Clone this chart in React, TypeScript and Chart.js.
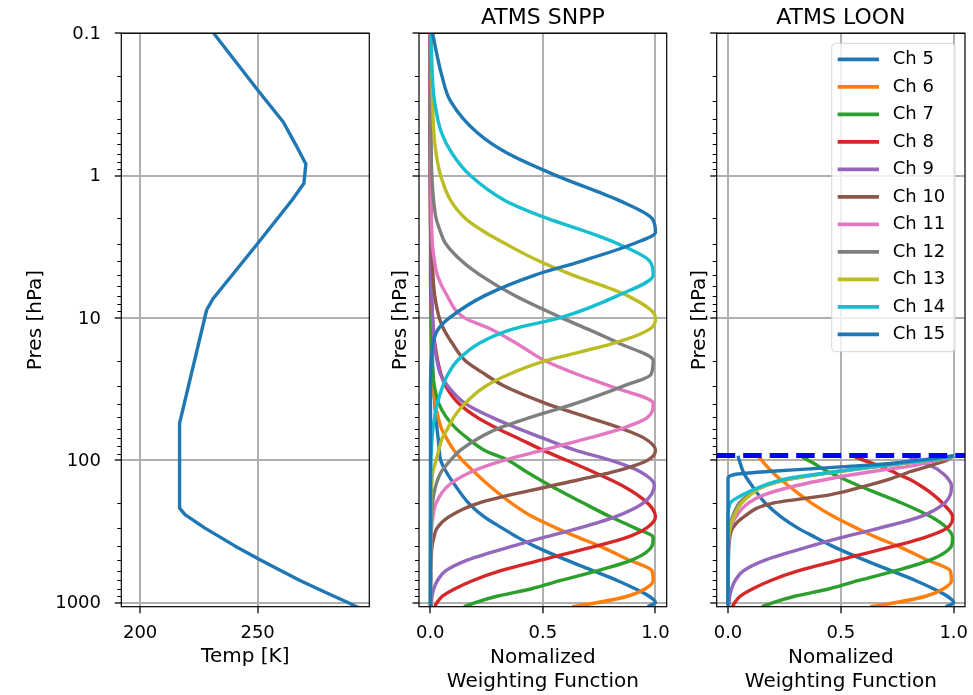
import React, { useEffect, useRef } from 'react';
import { Chart, registerables } from 'chart.js';

Chart.register(...registerables);

const FONT = 'DejaVu Sans';
Chart.defaults.font.family = FONT;

// ---------- axis ticks / limits ----------
const PRES_TICKS = [0.1, 1, 10, 100, 1000];
const TEMP_TICKS = [200, 250];
const WF_TICKS = [0, 0.5, 1];

const PRES_MIN = 0.1;
const PRES_MAX = 1070;
const TEMP_MIN = 192;
const TEMP_MAX = 297.5;
const WF_MIN = -0.05;
const WF_MAX = 1.05;

// ---------- panel 1: temperature profile ----------
const TEMP_PRES = [0.1, 0.25, 0.42, 0.61, 0.83, 1.13, 1.49, 3.0, 7.3, 8.8, 54.8, 217, 241, 300, 400, 500, 600, 700, 850, 1000, 1100];
const TEMP_K = [231.3, 250.0, 260.9, 266.3, 270.5, 269.7, 264.6, 250.0, 231.1, 228.3, 216.8, 216.8, 219.1, 227.6, 240.3, 251.0, 260.2, 268.0, 279.0, 288.4, 293.6];

// ---------- channels ----------
const CHANNELS = ['Ch 5', 'Ch 6', 'Ch 7', 'Ch 8', 'Ch 9', 'Ch 10', 'Ch 11', 'Ch 12', 'Ch 13', 'Ch 14', 'Ch 15'];
const CH_COLORS = ['#1f77b4', '#ff7f0e', '#2ca02c', '#d62728', '#9467bd', '#8c564b', '#e377c2', '#7f7f7f', '#bcbd22', '#17becf', '#1f77b4'];

// ---------- panel 2: ATMS SNPP normalized weighting functions ----------
const SNPP_PRES = [0.1, 0.2, 0.3, 0.5, 0.7, 1, 1.5, 2, 2.5, 3, 4, 5, 7, 10, 12, 15, 20, 25, 30, 40, 50, 60, 70, 85, 100, 120, 150, 200, 250, 300, 350, 400, 500, 600, 700, 800, 900, 1000, 1070];
const SNPP_CH5 = [0, 0, 0, 0, 0.001, 0.001, 0.001, 0.002, 0.002, 0.002, 0.003, 0.003, 0.004, 0.005, 0.006, 0.007, 0.01, 0.012, 0.015, 0.02, 0.025, 0.03, 0.035, 0.04, 0.046, 0.07, 0.11, 0.17, 0.24, 0.32, 0.39, 0.46, 0.6, 0.725, 0.83, 0.91, 0.97, 1.0, 0.965];
const SNPP_CH6 = [0, 0, 0, 0, 0.001, 0.001, 0.001, 0.001, 0.002, 0.002, 0.002, 0.003, 0.003, 0.004, 0.004, 0.005, 0.007, 0.009, 0.012, 0.022, 0.035, 0.05, 0.072, 0.105, 0.142, 0.193, 0.26, 0.36, 0.455, 0.56, 0.66, 0.75, 0.88, 0.985, 0.99, 0.955, 0.88, 0.745, 0.63];
const SNPP_CH7 = [0, 0, 0, 0, 0, 0, 0.001, 0.001, 0.001, 0.001, 0.001, 0.001, 0.002, 0.003, 0.004, 0.005, 0.008, 0.012, 0.018, 0.038, 0.072, 0.115, 0.165, 0.24, 0.345, 0.425, 0.53, 0.68, 0.8, 0.91, 0.99, 0.985, 0.9, 0.74, 0.58, 0.45, 0.3, 0.2, 0.15];
const SNPP_CH8 = [0, 0, 0, 0, 0, 0, 0.001, 0.001, 0.002, 0.002, 0.003, 0.004, 0.006, 0.01, 0.014, 0.02, 0.033, 0.048, 0.068, 0.127, 0.208, 0.3, 0.39, 0.5, 0.605, 0.72, 0.85, 0.965, 1.0, 0.96, 0.87, 0.74, 0.5, 0.31, 0.19, 0.11, 0.055, 0.03, 0.02];
const SNPP_CH9 = [0, 0, 0, 0, 0, 0.001, 0.002, 0.002, 0.003, 0.003, 0.004, 0.005, 0.007, 0.01, 0.013, 0.018, 0.03, 0.046, 0.077, 0.156, 0.274, 0.392, 0.5, 0.643, 0.8, 0.93, 0.995, 0.945, 0.82, 0.66, 0.5, 0.37, 0.17, 0.068, 0.032, 0.016, 0.008, 0.005, 0.003];
const SNPP_CH10 = [0, 0, 0.001, 0.001, 0.002, 0.002, 0.003, 0.004, 0.005, 0.006, 0.009, 0.012, 0.02, 0.04, 0.06, 0.097, 0.156, 0.245, 0.326, 0.515, 0.7, 0.85, 0.95, 1.0, 0.965, 0.82, 0.55, 0.215, 0.082, 0.03, 0.016, 0.008, 0.004, 0.002, 0.002, 0.001, 0.001, 0.001, 0.001];
const SNPP_CH11 = [0, 0.001, 0.001, 0.002, 0.002, 0.003, 0.004, 0.005, 0.007, 0.009, 0.019, 0.031, 0.075, 0.152, 0.27, 0.38, 0.51, 0.655, 0.795, 0.99, 0.965, 0.85, 0.702, 0.5, 0.33, 0.186, 0.082, 0.026, 0.012, 0.006, 0.004, 0.003, 0.002, 0.001, 0.001, 0.001, 0.001, 0.001, 0.001];
const SNPP_CH12 = [0.001, 0.002, 0.002, 0.003, 0.004, 0.007, 0.015, 0.026, 0.046, 0.068, 0.141, 0.222, 0.377, 0.584, 0.7, 0.835, 0.99, 0.98, 0.86, 0.643, 0.445, 0.3, 0.215, 0.134, 0.09, 0.05, 0.025, 0.01, 0.005, 0.003, 0.002, 0.002, 0.001, 0.001, 0.001, 0.001, 0.001, 0.001, 0.001];
const SNPP_CH13 = [0.005, 0.007, 0.01, 0.016, 0.026, 0.046, 0.091, 0.156, 0.243, 0.332, 0.485, 0.634, 0.877, 1.0, 0.974, 0.82, 0.513, 0.348, 0.249, 0.153, 0.104, 0.077, 0.053, 0.038, 0.026, 0.012, 0.006, 0.003, 0.002, 0.001, 0.001, 0.001, 0.001, 0.001, 0.001, 0.001, 0.001, 0.001, 0.001];
const SNPP_CH14 = [0.002, 0.009, 0.019, 0.05, 0.097, 0.178, 0.333, 0.52, 0.7, 0.83, 0.975, 0.99, 0.83, 0.575, 0.366, 0.22, 0.12, 0.078, 0.056, 0.031, 0.019, 0.012, 0.008, 0.005, 0.003, 0.002, 0.001, 0.001, 0.001, 0.001, 0.001, 0.001, 0.001, 0.001, 0.001, 0.001, 0.001, 0.001, 0.001];
const SNPP_CH15 = [0.01, 0.052, 0.09, 0.209, 0.345, 0.56, 0.84, 0.985, 1.0, 0.905, 0.67, 0.465, 0.24, 0.085, 0.035, 0.012, 0.004, 0.002, 0.001, 0.001, 0.001, 0.001, 0.001, 0.001, 0.001, 0.001, 0.001, 0.001, 0.001, 0.001, 0.001, 0.001, 0.001, 0.001, 0.001, 0.001, 0.001, 0.001, 0.001];

// ---------- panel 3: ATMS LOON (balloon) normalized weighting functions ----------
const LOON_TOP_PRES = 92.5;
const LOON_PRES = [93, 97, 100, 105, 110, 115, 120, 125, 135, 150, 175, 200, 250, 300, 350, 400, 500, 600, 700, 800, 900, 1000, 1070];
const LOON_CH5 = [0.045, 0.047, 0.05, 0.054, 0.058, 0.062, 0.067, 0.072, 0.085, 0.105, 0.135, 0.165, 0.235, 0.31, 0.39, 0.46, 0.6, 0.725, 0.83, 0.91, 0.97, 1.0, 0.965];
const LOON_CH6 = [0.135, 0.14, 0.15, 0.16, 0.172, 0.183, 0.195, 0.205, 0.23, 0.265, 0.32, 0.37, 0.47, 0.57, 0.66, 0.75, 0.88, 0.985, 0.99, 0.955, 0.88, 0.745, 0.63];
const LOON_CH7 = [0.32, 0.34, 0.355, 0.38, 0.4, 0.42, 0.44, 0.465, 0.51, 0.575, 0.68, 0.77, 0.9, 0.97, 0.995, 0.99, 0.9, 0.74, 0.58, 0.45, 0.3, 0.2, 0.15];
const LOON_CH8 = [0.55, 0.58, 0.6, 0.64, 0.67, 0.7, 0.73, 0.75, 0.8, 0.85, 0.91, 0.95, 0.995, 0.97, 0.87, 0.74, 0.5, 0.31, 0.19, 0.11, 0.055, 0.03, 0.02];
const LOON_CH9 = [0.79, 0.82, 0.84, 0.87, 0.9, 0.925, 0.94, 0.955, 0.975, 0.99, 0.985, 0.96, 0.85, 0.67, 0.5, 0.37, 0.17, 0.068, 0.032, 0.016, 0.008, 0.005, 0.003];
const LOON_CH10 = [0.99, 0.985, 0.97, 0.93, 0.89, 0.85, 0.81, 0.78, 0.72, 0.62, 0.45, 0.2, 0.07, 0.02, 0.008, 0.004, 0.002, 0.001, 0.001, 0.001, 0.001, 0.001, 0.001];
const LOON_CH11 = [1.0, 0.98, 0.93, 0.87, 0.81, 0.72, 0.64, 0.57, 0.45, 0.31, 0.16, 0.09, 0.035, 0.01, 0.004, 0.002, 0.001, 0.001, 0.001, 0.001, 0.001, 0.001, 0.001];
const LOON_CH12 = [1.0, 0.96, 0.89, 0.78, 0.68, 0.58, 0.49, 0.41, 0.28, 0.17, 0.09, 0.05, 0.02, 0.006, 0.002, 0.001, 0.001, 0.001, 0.001, 0.001, 0.001, 0.001, 0.001];
const LOON_CH13 = [1.0, 0.96, 0.89, 0.78, 0.68, 0.58, 0.49, 0.41, 0.28, 0.17, 0.1, 0.06, 0.025, 0.008, 0.003, 0.001, 0.001, 0.001, 0.001, 0.001, 0.001, 0.001, 0.001];
const LOON_CH14 = [1.0, 0.96, 0.88, 0.77, 0.67, 0.57, 0.48, 0.4, 0.26, 0.16, 0.065, 0.01, 0, 0, 0, 0, 0, 0, 0, 0, 0, 0, 0];
const LOON_CH15 = [1.0, 0.92, 0.84, 0.73, 0.55, 0.365, 0.178, 0.042, 0, 0, 0, 0, 0, 0, 0, 0, 0, 0, 0, 0, 0, 0, 0];

const SNPP_SERIES = [SNPP_CH5, SNPP_CH6, SNPP_CH7, SNPP_CH8, SNPP_CH9, SNPP_CH10, SNPP_CH11, SNPP_CH12, SNPP_CH13, SNPP_CH14, SNPP_CH15];
const LOON_SERIES = [LOON_CH5, LOON_CH6, LOON_CH7, LOON_CH8, LOON_CH9, LOON_CH10, LOON_CH11, LOON_CH12, LOON_CH13, LOON_CH14, LOON_CH15];

// ---------- layout / style ----------
const W = 973;
const H = 695;
const PLOT_TOP = 33.3;
const PLOT_BOTTOM = 606.7;
const GRID = '#b0b0b0';
const LINE_W = 3.4;
const tickFont = { family: FONT, size: 18 };
const labelFont = { family: FONT, size: 20 };

type Geom = { padLeft: number; plotLeft: number; plotRight: number; yTitleX: number };
const GEOM1: Geom = { padLeft: 0, plotLeft: 121.3, plotRight: 369.3, yTitleX: 36 };
const GEOM2: Geom = { padLeft: 380, plotLeft: 419, plotRight: 666.7, yTitleX: 401 };
const GEOM3: Geom = { padLeft: 680, plotLeft: 716.7, plotRight: 965, yTitleX: 699.4 };

function yScale(g: Geom, showLabels: boolean) {
  return {
    type: 'logarithmic',
    position: 'left',
    reverse: true,
    min: PRES_MIN,
    max: PRES_MAX,
    afterBuildTicks: (s: any) => {
      s.ticks = PRES_TICKS.map((v) => ({ value: v }));
    },
    afterFit: (s: any) => {
      s.width = g.plotLeft - g.padLeft;
      s.paddingTop = 0;
      s.paddingBottom = 0;
      s.paddingLeft = 0;
      s.paddingRight = 0;
    },
    ticks: {
      display: showLabels,
      autoSkip: false,
      color: '#000',
      font: tickFont,
      padding: 13.8,
      labelOffset: 1,
      callback: (v: number) => String(v),
    },
    grid: { color: GRID, lineWidth: 2, drawTicks: true, tickLength: 6.5, tickColor: '#000', tickWidth: 1.3 },
    border: { display: false },
    title: {
      display: true,
      text: 'Pres [hPa]',
      color: '#000',
      font: labelFont,
      padding: { top: g.yTitleX - g.padLeft - 12, bottom: 0 },
    },
  };
}

function xScale(min: number, max: number, ticks: number[], fmt: (v: number) => string, title: string | string[], padBottom: number) {
  return {
    type: 'linear',
    position: 'bottom',
    min,
    max,
    afterBuildTicks: (s: any) => {
      s.ticks = ticks.map((v) => ({ value: v }));
    },
    afterFit: (s: any) => {
      s.height = H - PLOT_BOTTOM;
      s.paddingTop = 0;
      s.paddingBottom = 0;
      s.paddingLeft = 0;
      s.paddingRight = 0;
    },
    ticks: {
      autoSkip: false,
      maxRotation: 0,
      minRotation: 0,
      color: '#000',
      font: tickFont,
      padding: 9.5,
      callback: fmt,
    },
    grid: { color: GRID, lineWidth: 2, drawTicks: true, tickLength: 6.6, tickColor: '#000', tickWidth: 1.3 },
    border: { display: false },
    title: { display: true, text: title, color: '#000', font: labelFont, padding: { top: 0, bottom: padBottom } },
  };
}

const decorPlugin = {
  id: 'decor',
  afterDraw(chart: any, _args: any, opts: any) {
    const { ctx, chartArea: a } = chart;
    const ys = chart.scales.y;
    ctx.save();
    // minor ticks on log pressure axis
    ctx.strokeStyle = '#000';
    ctx.lineWidth = 1;
    ctx.beginPath();
    PRES_TICKS.forEach((d) => {
      for (let m = 2; m <= 9; m++) {
        const v = d * m;
        if (v <= ys.min || v >= ys.max) continue;
        const py = Math.round(ys.getPixelForValue(v)) + 0.5;
        ctx.moveTo(a.left, py);
        ctx.lineTo(a.left - 4, py);
      }
    });
    ctx.stroke();
    // axes frame
    ctx.lineWidth = 1.2;
    ctx.strokeStyle = '#000';
    ctx.strokeRect(a.left, a.top, a.right - a.left, a.bottom - a.top);
    // legend
    if (opts && opts.legend) {
      const entries = chart.data.datasets.filter((d: any) => CHANNELS.includes(d.label));
      const boxW = 123.3;
      const boxH = 308.4;
      const right = a.right - 10;
      const top = a.top + 10;
      const left = right - boxW;
      ctx.beginPath();
      if (ctx.roundRect) ctx.roundRect(left, top, boxW, boxH, 4);
      else ctx.rect(left, top, boxW, boxH);
      ctx.fillStyle = 'rgba(255,255,255,0.8)';
      ctx.fill();
      ctx.strokeStyle = 'rgba(204,204,204,0.8)';
      ctx.lineWidth = 1;
      ctx.stroke();
      ctx.font = `18px "${FONT}"`;
      ctx.textBaseline = 'middle';
      ctx.textAlign = 'left';
      entries.forEach((d: any, i: number) => {
        const y = top + 16 + i * 27.5;
        ctx.beginPath();
        ctx.moveTo(left + 6, y);
        ctx.lineTo(left + 47.3, y);
        ctx.strokeStyle = d.borderColor;
        ctx.lineWidth = 3.8;
        ctx.stroke();
        ctx.fillStyle = '#000';
        ctx.fillText(d.label, left + 61, y + 0.5);
      });
    }
    ctx.restore();
  },
};

function baseOptions(g: Geom, hasTitle: boolean, titleText: string, showLegend: boolean) {
  return {
    responsive: false,
    animation: false,
    devicePixelRatio: 1,
    events: [],
    layout: { padding: { left: g.padLeft, right: W - g.plotRight, top: hasTitle ? 0 : PLOT_TOP, bottom: 0 } },
    plugins: {
      legend: { display: false },
      tooltip: { enabled: false },
      title: {
        display: hasTitle,
        text: titleText,
        color: '#000',
        fullSize: false,
        font: { family: FONT, size: 22, weight: 'normal' },
        padding: { top: 4.7, bottom: PLOT_TOP - 4.7 - 26.4 },
      },
      decor: { legend: showLegend },
    },
  };
}

function channelDatasets(pres: number[], series: number[][]) {
  return series.map((vals, i) => ({
    label: CHANNELS[i],
    data: pres.map((p, j) => ({ x: vals[j], y: p })),
    borderColor: CH_COLORS[i],
    backgroundColor: CH_COLORS[i],
    borderWidth: LINE_W,
    pointRadius: 0,
    fill: false,
    indexAxis: 'y',
    cubicInterpolationMode: 'monotone',
    borderJoinStyle: 'round',
    order: CHANNELS.length - i,
  }));
}

const fmtWF = (v: number) => v.toFixed(1);
const fmtInt = (v: number) => String(v);
const WF_TITLE = ['Nomalized', 'Weighting Function'];

export default function App() {
  const c1 = useRef<HTMLCanvasElement>(null);
  const c2 = useRef<HTMLCanvasElement>(null);
  const c3 = useRef<HTMLCanvasElement>(null);

  useEffect(() => {
    const charts: Chart[] = [];

    charts.push(
      new Chart(c1.current as HTMLCanvasElement, {
        type: 'line',
        data: {
          datasets: [
            {
              label: 'Temp',
              data: TEMP_PRES.map((p, i) => ({ x: TEMP_K[i], y: p })),
              borderColor: '#1f77b4',
              borderWidth: LINE_W,
              pointRadius: 0,
              fill: false,
              tension: 0,
              indexAxis: 'y',
              borderJoinStyle: 'round',
            } as any,
          ],
        },
        options: {
          ...(baseOptions(GEOM1, false, '', false) as any),
          scales: {
            x: xScale(TEMP_MIN, TEMP_MAX, TEMP_TICKS, fmtInt, 'Temp [K]', 26),
            y: yScale(GEOM1, true),
          } as any,
        },
        plugins: [decorPlugin],
      })
    );

    charts.push(
      new Chart(c2.current as HTMLCanvasElement, {
        type: 'line',
        data: { datasets: channelDatasets(SNPP_PRES, SNPP_SERIES) as any },
        options: {
          ...(baseOptions(GEOM2, true, 'ATMS SNPP', false) as any),
          scales: {
            x: xScale(WF_MIN, WF_MAX, WF_TICKS, fmtWF, WF_TITLE, 1.3),
            y: yScale(GEOM2, false),
          } as any,
        },
        plugins: [decorPlugin],
      })
    );

    const loonSets: any[] = channelDatasets(LOON_PRES, LOON_SERIES);
    loonSets.push({
      label: 'balloon',
      data: [
        { x: WF_MIN, y: LOON_TOP_PRES },
        { x: WF_MAX, y: LOON_TOP_PRES },
      ],
      borderColor: '#0000ff',
      borderWidth: 5,
      borderDash: [18.5, 8],
      pointRadius: 0,
      fill: false,
      tension: 0,
      indexAxis: 'x',
      order: -1,
    });

    charts.push(
      new Chart(c3.current as HTMLCanvasElement, {
        type: 'line',
        data: { datasets: loonSets },
        options: {
          ...(baseOptions(GEOM3, true, 'ATMS LOON', true) as any),
          scales: {
            x: xScale(WF_MIN, WF_MAX, WF_TICKS, fmtWF, WF_TITLE, 1.3),
            y: yScale(GEOM3, false),
          } as any,
        },
        plugins: [decorPlugin],
      })
    );

    return () => charts.forEach((c) => c.destroy());
  }, []);

  const cs: React.CSSProperties = { position: 'absolute', left: 0, top: 0 };
  return (
    <div style={{ position: 'absolute', left: 0, top: 0, width: W, height: H, background: '#fff', overflow: 'hidden' }}>
      <canvas ref={c1} width={W} height={H} style={cs} />
      <canvas ref={c2} width={W} height={H} style={cs} />
      <canvas ref={c3} width={W} height={H} style={cs} />
    </div>
  );
}
